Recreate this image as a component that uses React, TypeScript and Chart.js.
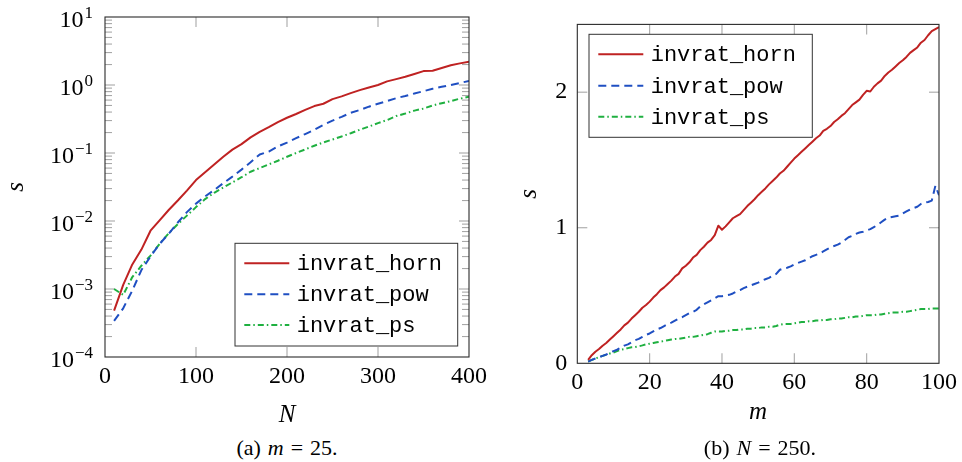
import React, { useEffect, useRef } from 'react';
import { Chart, registerables } from 'chart.js';

Chart.register(...registerables);

// ---------- data: panel (a), m = 25 ----------
const nValues = [10, 20, 30, 40, 50, 60, 70, 80, 90, 100, 110, 120, 130, 140, 150, 160, 170, 180, 190, 200,
  210, 220, 230, 240, 250, 260, 270, 280, 290, 300, 310, 320, 330, 340, 350, 360, 370, 380, 390, 400];
const hornA = [4.8e-4, 1.15e-3, 2.3e-3, 3.8e-3, 7.2e-3, 1.02e-2, 1.45e-2, 2.0e-2, 2.8e-2, 4.0e-2,
  5.2e-2, 6.8e-2, 8.8e-2, 0.112, 0.135, 0.17, 0.205, 0.24, 0.285, 0.33,
  0.375, 0.43, 0.49, 0.53, 0.62, 0.68, 0.76, 0.84, 0.92, 1.0,
  1.13, 1.22, 1.32, 1.45, 1.6, 1.62, 1.78, 1.95, 2.08, 2.2];
const powA = [3.4e-4, 5.2e-4, 9.5e-4, 1.9e-3, 3.0e-3, 4.6e-3, 6.5e-3, 9.5e-3, 1.35e-2, 1.8e-2,
  2.3e-2, 2.85e-2, 3.6e-2, 4.5e-2, 5.7e-2, 7.3e-2, 9.5e-2, 0.105, 0.125, 0.142,
  0.165, 0.19, 0.22, 0.26, 0.3, 0.34, 0.39, 0.43, 0.48, 0.53,
  0.58, 0.64, 0.69, 0.75, 0.81, 0.88, 0.94, 1.0, 1.07, 1.15];
const psA = [1.0e-3, 8.2e-4, 1.5e-3, 2.2e-3, 3.1e-3, 4.6e-3, 6.6e-3, 9.0e-3, 1.2e-2, 1.6e-2,
  2.1e-2, 2.6e-2, 3.1e-2, 3.7e-2, 4.4e-2, 5.3e-2, 6.0e-2, 6.8e-2, 7.7e-2, 8.8e-2,
  0.1, 0.113, 0.128, 0.143, 0.158, 0.175, 0.195, 0.22, 0.245, 0.275,
  0.305, 0.35, 0.38, 0.42, 0.45, 0.5, 0.54, 0.58, 0.63, 0.67];

// ---------- data: panel (b), N = 250 ----------
const mValues = [3, 4, 5, 6, 7, 8, 9, 10, 11, 12, 13, 14, 15, 16, 17, 18, 19, 20,
  21, 22, 23, 24, 25, 26, 27, 28, 29, 30, 31, 32, 33, 34, 35, 36, 37, 38, 39, 40,
  41, 42, 43, 44, 45, 46, 47, 48, 49, 50, 51, 52, 53, 54, 55, 56, 57, 58, 59, 60,
  61, 62, 63, 64, 65, 66, 67, 68, 69, 70, 71, 72, 73, 74, 75, 76, 77, 78, 79, 80,
  81, 82, 83, 84, 85, 86, 87, 88, 89, 90, 91, 92, 93, 94, 95, 96, 97, 98, 99, 100];
const hornB = [0.025, 0.06, 0.085, 0.105, 0.13, 0.15, 0.175, 0.2, 0.225, 0.25, 0.28, 0.3, 0.33, 0.355, 0.38, 0.41, 0.43, 0.455,
  0.485, 0.51, 0.54, 0.56, 0.585, 0.61, 0.64, 0.66, 0.7, 0.72, 0.745, 0.78, 0.8, 0.835, 0.86, 0.89, 0.91, 0.945, 1.015, 0.985,
  1.01, 1.04, 1.07, 1.085, 1.1, 1.13, 1.16, 1.185, 1.21, 1.24, 1.265, 1.29, 1.32, 1.345, 1.37, 1.4, 1.42, 1.45, 1.48, 1.51,
  1.535, 1.56, 1.585, 1.61, 1.635, 1.66, 1.68, 1.715, 1.73, 1.75, 1.78, 1.8, 1.825, 1.845, 1.875, 1.905, 1.925, 1.945, 1.98, 2.01,
  2.005, 2.04, 2.065, 2.085, 2.12, 2.145, 2.165, 2.19, 2.215, 2.235, 2.26, 2.29, 2.31, 2.33, 2.365, 2.385, 2.42, 2.45, 2.465, 2.48];
const powB = [0.012, 0.025, 0.035, 0.045, 0.055, 0.065, 0.078, 0.09, 0.1, 0.115, 0.13, 0.14, 0.155, 0.17, 0.18, 0.195, 0.21, 0.22,
  0.235, 0.25, 0.26, 0.275, 0.29, 0.3, 0.315, 0.33, 0.34, 0.355, 0.37, 0.38, 0.395, 0.42, 0.435, 0.45, 0.465, 0.48, 0.495, 0.495,
  0.5, 0.505, 0.515, 0.53, 0.54, 0.555, 0.565, 0.575, 0.585, 0.595, 0.61, 0.62, 0.63, 0.645, 0.66, 0.69, 0.7, 0.705, 0.715, 0.73,
  0.74, 0.75, 0.76, 0.775, 0.79, 0.8, 0.81, 0.825, 0.84, 0.855, 0.865, 0.875, 0.89, 0.91, 0.93, 0.94, 0.955, 0.965, 0.97, 0.98,
  0.99, 1.005, 1.02, 1.04, 1.06, 1.075, 1.08, 1.085, 1.09, 1.105, 1.12, 1.135, 1.145, 1.155, 1.175, 1.185, 1.19, 1.2, 1.31, 1.24];
const psB = [0.012, 0.025, 0.035, 0.045, 0.055, 0.063, 0.072, 0.08, 0.09, 0.1, 0.105, 0.112, 0.118, 0.12, 0.125, 0.132, 0.14, 0.145,
  0.15, 0.155, 0.16, 0.165, 0.17, 0.175, 0.18, 0.18, 0.185, 0.19, 0.195, 0.195, 0.2, 0.205, 0.21, 0.215, 0.225, 0.235, 0.235, 0.235,
  0.24, 0.24, 0.245, 0.245, 0.25, 0.25, 0.255, 0.255, 0.26, 0.26, 0.265, 0.265, 0.27, 0.27, 0.275, 0.285, 0.29, 0.29, 0.29, 0.295,
  0.3, 0.305, 0.305, 0.31, 0.31, 0.315, 0.315, 0.32, 0.32, 0.325, 0.325, 0.33, 0.33, 0.335, 0.34, 0.34, 0.345, 0.345, 0.35, 0.355,
  0.355, 0.355, 0.36, 0.36, 0.365, 0.37, 0.375, 0.375, 0.375, 0.38, 0.38, 0.385, 0.39, 0.395, 0.4, 0.4, 0.4, 0.405, 0.405, 0.405];

const seriesNames = ['invrat_horn', 'invrat_pow', 'invrat_ps'];

// ---------- ticks ----------
const xTicksA = [0, 100, 200, 300, 400];
const yTickValuesA = [1e-4, 1e-3, 1e-2, 1e-1, 1, 10];
const yTickBaseA = '10';
const yTickExpA = ['\u22124', '\u22123', '\u22122', '\u22121', '0', '1'];
const xTicksB = [0, 20, 40, 60, 80, 100];
const yTicksB = [0, 1, 2];

// ---------- styles ----------
const COLORS = ['#bf2222', '#1f4fc2', '#1fb040'];
const DASHES = [[], [8, 5], [6, 3, 1.5, 3]];
const SERIF = "'Liberation Serif', 'DejaVu Serif', serif";
const MONO = "'Liberation Mono', 'DejaVu Sans Mono', monospace";

Chart.defaults.font.family = SERIF;
Chart.defaults.color = '#000';

const pgfPlugin = {
  id: 'pgf',
  beforeDatasetsDraw(chart: any, _args: any, opts: any) {
    const { ctx, chartArea: a, scales } = chart;
    ctx.save();
    ctx.strokeStyle = '#a8a8a8';
    ctx.lineWidth = 1.1;
    const seg = (x0: number, y0: number, x1: number, y1: number) => {
      ctx.beginPath(); ctx.moveTo(x0, y0); ctx.lineTo(x1, y1); ctx.stroke();
    };
    for (const v of opts.xMajor) {
      const p = scales.x.getPixelForValue(v);
      if (p <= a.left + 1 || p >= a.right - 1) continue;
      seg(p, a.bottom, p, a.bottom - opts.major);
      seg(p, a.top, p, a.top + opts.major);
    }
    for (const v of opts.yMajor) {
      const p = scales.y.getPixelForValue(v);
      if (p <= a.top + 1 || p >= a.bottom - 1) continue;
      seg(a.left, p, a.left + opts.major, p);
      seg(a.right, p, a.right - opts.major, p);
    }
    if (opts.logMinor) {
      for (let i = 0; i < opts.yMajor.length - 1; i++) {
        for (let j = 2; j <= 9; j++) {
          const p = scales.y.getPixelForValue(opts.yMajor[i] * j);
          seg(a.left, p, a.left + opts.minor, p);
          seg(a.right, p, a.right - opts.minor, p);
        }
      }
    }
    ctx.restore();
  },
  afterDatasetsDraw(chart: any, _args: any, opts: any) {
    const { ctx, chartArea: a, scales } = chart;
    ctx.save();
    ctx.strokeStyle = '#2a2a2a';
    ctx.lineWidth = 1.1;
    ctx.strokeRect(a.left, a.top, a.right - a.left, a.bottom - a.top);

    // power-of-ten tick labels (base + raised exponent)
    if (opts.powLabels) {
      const P = opts.powLabels;
      ctx.fillStyle = '#000';
      ctx.textAlign = 'right';
      ctx.textBaseline = 'alphabetic';
      P.values.forEach((v: number, i: number) => {
        const y = scales.y.getPixelForValue(v);
        ctx.font = `17px ${SERIF}`;
        const ew = ctx.measureText(P.exps[i]).width;
        ctx.fillText(P.exps[i], P.right, y + 1);
        ctx.font = `24px ${SERIF}`;
        ctx.fillText(P.base, P.right - ew - 1, y + 10);
      });
    }

    const L = opts.legend;
    ctx.fillStyle = '#fff';
    ctx.fillRect(L.x, L.y, L.w, L.h);
    ctx.strokeStyle = '#333';
    ctx.lineWidth = 1;
    ctx.strokeRect(L.x, L.y, L.w, L.h);
    chart.data.datasets.forEach((ds: any, i: number) => {
      const y = L.rows[i];
      ctx.strokeStyle = ds.borderColor;
      ctx.lineWidth = ds.borderWidth;
      ctx.setLineDash(ds.borderDash || []);
      ctx.beginPath(); ctx.moveTo(L.x0, y); ctx.lineTo(L.x1, y); ctx.stroke();
      ctx.setLineDash([]);
      ctx.fillStyle = '#000';
      ctx.font = `22px ${MONO}`;
      ctx.textBaseline = 'middle';
      ctx.textAlign = 'left';
      ctx.fillText(ds.label, L.tx, y + 1);
    });
    ctx.restore();
  },
};

const makeDatasets = (xs: number[], series: number[][]) =>
  series.map((ys, i) => ({
    label: seriesNames[i],
    data: xs.map((x, k) => ({ x, y: ys[k] })),
    borderColor: COLORS[i],
    backgroundColor: COLORS[i],
    borderDash: DASHES[i],
    borderWidth: 2,
    pointRadius: 0,
    tension: 0,
    fill: false,
    borderJoinStyle: 'round',
  }));

const tickFont = { size: 24, family: SERIF };
const titleFont = { size: 25, family: SERIF, style: 'italic' };
const noGrid = { display: false, drawTicks: false, tickLength: 0 };

function configA(): any {
  return {
    type: 'line',
    data: { datasets: makeDatasets(nValues, [hornA, powA, psA]) },
    plugins: [pgfPlugin],
    options: {
      responsive: false,
      animation: false,
      events: [],
      layout: { padding: { left: 0, top: 17, right: 31, bottom: 0 } },
      plugins: {
        legend: { display: false },
        tooltip: { enabled: false },
        pgf: {
          xMajor: xTicksA, yMajor: yTickValuesA, logMinor: true, major: 10, minor: 7,
          powLabels: { values: yTickValuesA, base: yTickBaseA, exps: yTickExpA, right: 93 },
          legend: { x: 235, y: 243.3, w: 222.7, h: 102.7, rows: [263.3, 294.3, 325], x0: 244.3, x1: 289.3, tx: 296.7 },
        },
      },
      scales: {
        x: {
          type: 'linear', min: 0, max: 400,
          afterBuildTicks: (s: any) => { s.ticks = xTicksA.map((v) => ({ value: v })); },
          ticks: { font: tickFont, padding: 5, maxRotation: 0, autoSkip: false, color: '#000' },
          grid: noGrid, border: { display: false },
          title: { display: true, text: 'N', font: titleFont, color: '#000', padding: { top: 0, bottom: 0 } },
          afterFit: (s: any) => { s.height = 73; },
        },
        y: {
          type: 'logarithmic', min: 1e-4, max: 10,
          afterBuildTicks: (s: any) => { s.ticks = yTickValuesA.map((v) => ({ value: v })); },
          ticks: { display: false },
          grid: noGrid, border: { display: false },
          title: { display: true, text: 's', font: titleFont, color: '#000', padding: { top: 1, bottom: 0 } },
          afterFit: (s: any) => { s.width = 105; },
        },
      },
    },
  };
}

function configB(): any {
  return {
    type: 'line',
    data: { datasets: makeDatasets(mValues, [hornB, powB, psB]) },
    plugins: [pgfPlugin],
    options: {
      responsive: false,
      animation: false,
      events: [],
      layout: { padding: { left: 0, top: 24, right: 20.3, bottom: 0 } },
      plugins: {
        legend: { display: false },
        tooltip: { enabled: false },
        pgf: {
          xMajor: xTicksB, yMajor: yTicksB, logMinor: false, major: 10, minor: 7,
          legend: { x: 109, y: 34.3, w: 223.3, h: 103, rows: [54.3, 85.7, 116.7], x0: 118.3, x1: 163.3, tx: 170.7 },
        },
      },
      scales: {
        x: {
          type: 'linear', min: 0, max: 100,
          afterBuildTicks: (s: any) => { s.ticks = xTicksB.map((v) => ({ value: v })); },
          ticks: { font: tickFont, padding: 5, maxRotation: 0, autoSkip: false, color: '#000' },
          grid: noGrid, border: { display: false },
          title: { display: true, text: 'm', font: titleFont, color: '#000', padding: { top: 0, bottom: 3 } },
          afterFit: (s: any) => { s.height = 66.7; },
        },
        y: {
          type: 'linear', min: 0, max: 2.5,
          afterBuildTicks: (s: any) => { s.ticks = yTicksB.map((v) => ({ value: v })); },
          ticks: { font: tickFont, padding: 10, autoSkip: false, color: '#000' },
          grid: noGrid, border: { display: false },
          title: { display: true, text: 's', font: titleFont, color: '#000', padding: { top: 34, bottom: 0 } },
          afterFit: (s: any) => { s.width = 97.3; },
        },
      },
    },
  };
}

function ChartCanvas({ make, left, width, height }: { make: () => any; left: number; width: number; height: number }) {
  const ref = useRef<HTMLCanvasElement | null>(null);
  useEffect(() => {
    const chart = new Chart(ref.current as HTMLCanvasElement, make());
    return () => chart.destroy();
  }, []);
  return (
    <canvas
      ref={ref}
      width={width}
      height={height}
      style={{ position: 'absolute', left, top: 0, width, height }}
    />
  );
}

const captionStyle: React.CSSProperties = {
  position: 'absolute',
  top: 434,
  width: 300,
  textAlign: 'center',
  fontFamily: SERIF,
  fontSize: 22,
  lineHeight: '27px',
  wordSpacing: 1.5,
  color: '#000',
  whiteSpace: 'pre',
};

export default function App() {
  return (
    <div style={{ position: 'absolute', left: 0, top: 0, width: 962, height: 462, background: '#fff', overflow: 'hidden' }}>
      <ChartCanvas make={configA} left={0} width={500} height={430} />
      <ChartCanvas make={configB} left={480} width={482} height={430} />
      <div style={{ ...captionStyle, left: 287 - 150 }}>
        (a) <i>m</i> = 25.
      </div>
      <div style={{ ...captionStyle, left: 760 - 150 }}>
        (b) <i>N</i> = 250.
      </div>
    </div>
  );
}
